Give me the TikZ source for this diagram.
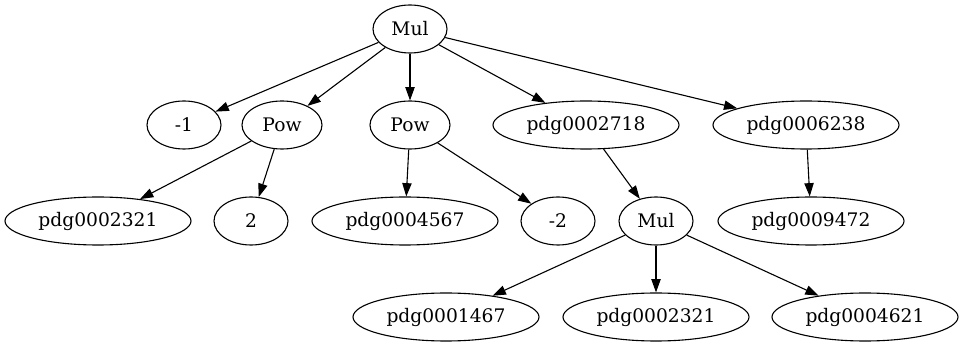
\documentclass[tikz,border=0pt]{standalone}
\usepackage{fontspec}
\setmainfont{DejaVu Serif}
\usetikzlibrary{shapes.geometric,arrows.meta}
\begin{document}
\begin{tikzpicture}[x=1pt,y=-1pt,
  nd/.style={draw,ellipse,line width=1.1pt,inner sep=0pt,minimum height=48pt,
    font=\fontsize{18.67}{22}\selectfont},
  sm/.style={nd,minimum width=74pt},
  pw/.style={nd,minimum width=80pt},
  lg/.style={nd,minimum width=186pt},
  edge/.style={line width=1.1pt,-{Triangle[length=13.3pt,width=9.3pt]}}]
\useasboundingbox (0,0) rectangle (964,347);
\node[sm] (mul) at (410,29) {Mul};
\node[sm] (m1) at (184,125) {-1};
\node[pw] (pow1) at (282,125) {Pow};
\node[pw] (pow2) at (410,125) {Pow};
\node[lg] (p2718) at (586,125) {pdg0002718};
\node[lg] (p6238) at (806,125) {pdg0006238};
\node[lg] (p2321a) at (98,221) {pdg0002321};
\node[sm] (two) at (251,221) {2};
\node[lg] (p4567) at (405,221) {pdg0004567};
\node[sm] (m2) at (558,221) {-2};
\node[sm] (mul2) at (656,221) {Mul};
\node[lg] (p9472) at (811,221) {pdg0009472};
\node[lg] (p1467) at (446,317) {pdg0001467};
\node[lg] (p2321b) at (656,317) {pdg0002321};
\node[lg] (p4621) at (865,317) {pdg0004621};
\draw[edge] (mul) -- (m1);
\draw[edge] (mul) -- (pow1);
\draw[edge] (mul) -- (pow2);
\draw[edge] (mul) -- (p2718);
\draw[edge] (mul) -- (p6238);
\draw[edge] (pow1) -- (p2321a);
\draw[edge] (pow1) -- (two);
\draw[edge] (pow2) -- (p4567);
\draw[edge] (pow2) -- (m2);
\draw[edge] (p2718) -- (mul2);
\draw[edge] (p6238) -- (p9472);
\draw[edge] (mul2) -- (p1467);
\draw[edge] (mul2) -- (p2321b);
\draw[edge] (mul2) -- (p4621);
\end{tikzpicture}
\end{document}
